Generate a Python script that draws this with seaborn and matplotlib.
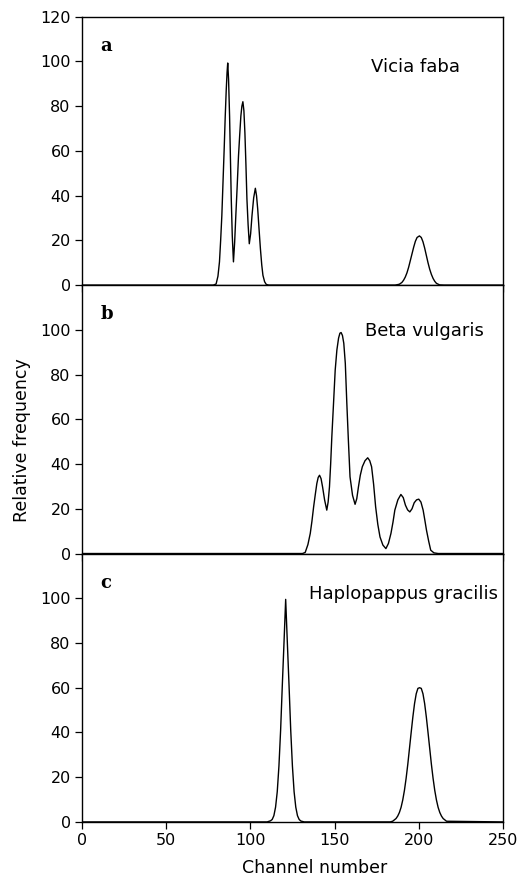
import numpy as np
import pandas as pd
import matplotlib
matplotlib.use("Agg")
import matplotlib.pyplot as plt
import seaborn as sns

# ---- data (channel, relative frequency) ----
vicia_ch = [0, 78, 79.7, 80.8, 81.7, 82.4, 83.1, 83.8, 84.5, 85.1, 85.7, 86.2, 86.6, 87.1, 87.7, 88.2, 88.7,
            89.3, 90.0, 90.7, 91.4, 92.2, 93.0, 93.7, 94.4, 95.0, 95.6, 96.2, 96.8, 97.4, 98.0, 98.7,
            99.4, 100.2, 101.0, 102.0, 103.0, 103.7, 104.4, 105.2, 106.0, 106.8, 107.5, 108.5, 109.5, 111,
            186, 188.5, 190, 191, 192, 193, 194, 195, 196, 197, 198, 199, 200.4, 201.5, 202.5, 203.5,
            204.5, 205.5, 206.5, 207.5, 208.5, 209.5, 210.5, 212.4, 215, 250]
vicia_val = [0, 0, 0.5, 4, 10.4, 20, 31, 46, 61, 75, 87, 95, 99.3, 92, 75.6, 57, 38.5,
             22, 10.4, 19, 31, 44, 57.8, 67, 75.6, 80, 82, 78, 68, 54, 38.5, 27,
             18.5, 23, 31, 39, 43.3, 40, 34, 25, 16.3, 9, 4.4, 1.5, 0.3, 0,
             0, 0.4, 1.2, 2.2, 3.6, 5.5, 8, 11, 14, 17, 19.6, 21.3, 22, 21.3, 19.4, 16.6,
             13.3, 10, 7.1, 4.8, 3.0, 1.7, 0.8, 0.1, 0, 0]

beta_ch = [0, 131, 132.6, 134.2, 135.6, 136.6, 137.6, 138.6, 139.5, 140.3, 141.1, 142.0, 142.9, 144.1,
           145.4, 146.2, 147.0, 147.7, 148.4, 149.4, 150.4, 151.4, 152.4, 153.2, 153.9, 154.7, 155.5,
           156.4, 157.3, 158.2, 159.2, 160.7, 162.2, 163.2, 164.2, 165.3, 166.5, 168.1, 169.7, 170.9,
           172.0, 173.2, 174.4, 175.7, 177.0, 178.7, 180.5, 182.0, 183.5, 184.7, 185.8, 187.6, 189.4,
           190.8, 192.1, 193.4, 194.7, 196.0, 197.3, 198.7, 200.0, 201.3, 202.6, 203.6, 204.6, 205.9,
           207.1, 209.0, 211.5, 250]
beta_val = [0, 0, 0.5, 4, 9, 14.5, 20.9, 26.5, 31.3, 34, 35, 33.5, 29.8, 24,
            19.4, 23, 29.8, 40, 52.2, 67, 82, 91, 96.3, 98.5, 98.8, 97.5, 94,
            85, 67.2, 51, 34.3, 26, 22, 24.5, 29.8, 35, 38.8, 41.5, 42.8, 41.5,
            38.8, 31, 20.9, 13, 7.4, 3.8, 2.2, 4.5, 9, 14, 19.4, 24, 26.4,
            25, 21.6, 19.5, 18.6, 20, 22.7, 24, 24.3, 23, 19.4, 15, 10.4, 5.5,
            1.5, 0.3, 0, 0]

haplo_ch = [0, 110, 112, 113, 114, 115, 116, 117, 118, 119, 120, 121, 122, 123, 124, 125, 126,
            127, 128, 129, 130, 132,
            183, 184.5, 185.5, 186.5, 187.5, 188.5, 189.5, 190.5, 191.5, 192.5, 193.5, 194.5, 195.5,
            196.5, 197.5, 198.5, 199.5, 200.5, 201.5, 202.5, 203.5, 204.5, 205.5, 206.5, 207.5,
            208.5, 209.5, 210.5, 211.5, 212.5, 213.5, 214.5, 216.5, 250]
haplo_val = [0, 0, 0.5, 1.1, 2.8, 6.6, 13.5, 25, 41, 61, 80, 99.5, 80, 61, 41, 25, 13.5,
             6.6, 2.8, 1.1, 0.4, 0,
             0, 0.3, 0.9, 1.5, 2.6, 4.2, 6.5, 9.8, 14.1, 19.5, 25.8, 32.9, 40.0,
             46.9, 52.9, 57.3, 59.7, 60.0, 59.7, 57.3, 52.9, 46.9, 40.0, 32.9, 25.8,
             19.5, 14.1, 9.8, 6.5, 4.2, 2.6, 1.5, 0.3, 0]

panel_letters = ["a", "b", "c"]
species = ["Vicia faba", "Beta vulgaris", "Haplopappus gracilis"]
x_ticks = [0, 50, 100, 150, 200, 250]
y_ticks_top = [0, 20, 40, 60, 80, 100, 120]
y_ticks_other = [0, 20, 40, 60, 80, 100]

frames = []
for name, ch, val in [("a", vicia_ch, vicia_val), ("b", beta_ch, beta_val),
                      ("c", haplo_ch, haplo_val)]:
    frames.append(pd.DataFrame({"panel": name, "channel": ch, "freq": val}))
df = pd.concat(frames, ignore_index=True)

sns.set_style("ticks")
plt.rcParams["font.family"] = ["DejaVu Sans"]
plt.rcParams["text.color"] = "black"
plt.rcParams["axes.labelcolor"] = "black"
plt.rcParams["xtick.color"] = "black"
plt.rcParams["ytick.color"] = "black"
plt.rcParams["xtick.direction"] = "out"
plt.rcParams["ytick.direction"] = "out"

fig = plt.figure(figsize=(5.18, 8.80), dpi=100)
left, right = 0.158, 0.971
top, bottom = 0.981, 0.066
h = (top - bottom) / 3
axes = []
for i in range(3):
    ax = fig.add_axes([left, top - (i + 1) * h, right - left, h])
    axes.append(ax)

for i, ax in enumerate(axes):
    sub = df[df["panel"] == panel_letters[i]]
    sns.lineplot(data=sub, x="channel", y="freq", ax=ax, color="black",
                 linewidth=1.0, sort=False, estimator=None)
    ax.set_xlim(0, 250)
    ax.set_ylim(0, 120)
    ax.set_xticks(x_ticks)
    ax.set_yticks(y_ticks_top if i == 0 else y_ticks_other)
    ax.tick_params(axis="both", labelsize=11.5, length=5, width=0.9, color="black",
                   labelcolor="black", pad=3)
    for s in ax.spines.values():
        s.set_visible(True)
        s.set_linewidth(1.0)
        s.set_color("black")
    ax.set_xlabel("")
    ax.set_ylabel("")
    if i < 2:
        ax.tick_params(axis="x", labelbottom=False)
    ax.text(11, 107, panel_letters[i], fontsize=13, fontweight="bold",
            family=["DejaVu Serif"], ha="left", va="center", color="black")

axes[0].text(198, 97.6, species[0], fontsize=13, ha="center", va="center", color="black")
axes[1].text(203.5, 99.7, species[1], fontsize=13, ha="center", va="center", color="black")
axes[2].text(191, 102, species[2], fontsize=13, ha="center", va="center", color="black")

axes[2].set_xlabel("Channel number", fontsize=12.5, labelpad=1, color="black")
axes[2].xaxis.set_label_coords(0.552, -0.14)
fig.text(0.042, 0.5, "Relative frequency", rotation=90, fontsize=12.5,
         ha="center", va="center", color="black")

fig.savefig("out.png", dpi=100)
